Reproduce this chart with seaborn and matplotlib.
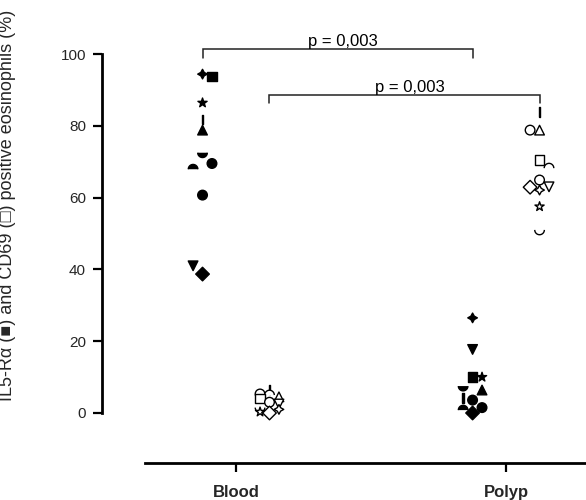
import numpy as np
import pandas as pd
import matplotlib
matplotlib.use("Agg")
import matplotlib.pyplot as plt
import seaborn as sns

# ============================== DATA ==============================
categories = ["Blood", "Polyp"]

blood_il5 = [94.4, 93.7, 86.4, 81.8, 78.8, 72.5, 69.5, 67.9, 60.7, 41.0, 38.7]
blood_il5_shape = ["cross", "square", "star", "dash", "tri_up", "half_bot",
                   "circle", "half_top", "circle2", "tri_down", "diamond"]
blood_il5_slot = [0, 1, 0, 0, 0, 0, 1, -1, 0, -1, 0]

blood_cd69 = [6.5, 5.3, 5.0, 4.5, 4.0, 3.0, 2.5, 1.5, 1.0, 0.3, 0.0]
blood_cd69_shape = ["dash", "circle", "half_top", "tri_up", "square", "circle2",
                    "tri_down", "half_bot", "cross", "star", "diamond"]
blood_cd69_slot = [0, -1, 0, 1, -1, 0, 1, -1, 1, -1, 0]

polyp_il5 = [26.5, 17.7, 10.1, 10.0, 7.5, 6.4, 4.2, 3.6, 1.5, 0.8, 0.0]
polyp_il5_shape = ["cross", "tri_down", "square", "star", "half_bot", "tri_up",
                   "dash", "circle", "circle2", "half_top", "diamond"]
polyp_il5_slot = [0, 0, 0, 1, -1, 1, -1, 0, 1, -1, 0]

polyp_cd69 = [83.8, 78.8, 78.8, 70.5, 68.2, 64.9, 62.9, 63.0, 62.1, 57.5, 51.0]
polyp_cd69_shape = ["dash", "circle", "tri_up", "square", "half_top", "circle2",
                    "diamond", "tri_down", "cross", "star", "half_bot"]
polyp_cd69_slot = [0, -1, 0, 0, 1, 0, -1, 1, 0, 0, 0]

p_values = ["p = 0,003", "p = 0,003"]

# ============================== STYLE ==============================
sns.set_theme(style="white")
plt.rcParams["font.family"] = ["Liberation Sans", "DejaVu Sans"]

t = np.linspace(0, np.pi, 25)
half_top = np.column_stack([np.cos(t), np.sin(t)])          # flat bottom
half_bot = np.column_stack([np.cos(t), -np.sin(t)])         # flat top
dash = np.array([[-0.13, -1], [0.13, -1], [0.13, 1], [-0.13, 1], [-0.13, -1]])

marker_map = {
    "cross": (4, 1, 0), "square": "s", "star": "*", "dash": dash,
    "tri_up": "^", "tri_down": "v", "circle": "o", "circle2": "o",
    "diamond": "D", "half_top": half_top, "half_bot": half_bot,
}

side_offset = 0.124   # IL5 left of tick, CD69 right of tick
slot_step = 0.035


def make_frame(values, shapes, slots, cat, side):
    pos = categories.index(cat) + side * side_offset
    return pd.DataFrame({
        "x": [pos + s * slot_step for s in slots],
        "value": values,
        "shape": shapes,
    })


fig = plt.figure(figsize=(5.86, 5.0), dpi=100)
ax = fig.add_axes([145 / 586, 37 / 500, 441 / 586, 445 / 500])

groups = [
    (blood_il5, blood_il5_shape, blood_il5_slot, "Blood", -1, "black"),
    (blood_cd69, blood_cd69_shape, blood_cd69_slot, "Blood", 1, "white"),
    (polyp_il5, polyp_il5_shape, polyp_il5_slot, "Polyp", -1, "black"),
    (polyp_cd69, polyp_cd69_shape, polyp_cd69_slot, "Polyp", 1, "white"),
]
for vals, shapes, slots, cat, side, face in groups:
    df = make_frame(vals, shapes, slots, cat, side)
    sns.scatterplot(data=df, x="x", y="value", style="shape", markers=marker_map,
                    color=face, edgecolor="black", linewidth=1.0, s=48,
                    legend=False, ax=ax, zorder=3)

# significance brackets
brackets = [
    (0 - side_offset, 1 - side_offset, 101.4, 98.9, p_values[0]),
    (0 + side_offset, 1 + side_offset, 88.6, 86.3, p_values[1]),
]
for x1, x2, top, leg, label in brackets:
    ax.plot([x1, x1, x2, x2], [leg, top, top, leg], color="#222222", lw=1.1,
            solid_joinstyle="miter", zorder=2)
    ax.text((x1 + x2) / 2 + 0.02, top + 0.8, label, ha="center", va="baseline",
            fontsize=12, color="black")

# axes
ax.set_xlim(-0.337, 1.296)
ax.set_ylim(-13.93, 110.03)
ax.set_xticks(range(len(categories)))
ax.set_xticklabels(categories, fontweight="bold", fontsize=12)
ax.set_yticks([0, 20, 40, 60, 80, 100])
ax.set_yticklabels(["0", "20", "40", "60", "80", "100"], fontweight="bold", fontsize=11)
ax.set_xlabel("")
ax.set_ylabel("IL5-R\u03b1 (\u25a0) and CD69 (\u25a1) positive eosinophils (%)",
              fontsize=13)
ax.yaxis.set_label_coords(-0.292, 0.58)

sns.despine(ax=ax)
ax.spines["left"].set_position(("outward", 31))
ax.spines["left"].set_bounds(0, 100)
for side in ["left", "bottom"]:
    ax.spines[side].set_linewidth(2.0)
    ax.spines[side].set_color("black")
ax.tick_params(axis="both", direction="out", length=6.5, width=1.6, color="black",
               left=True, bottom=True)
ax.tick_params(axis="y", pad=5)
ax.tick_params(axis="x", pad=9)
ax.grid(False)

fig.savefig("out.png", dpi=100, facecolor="white")
